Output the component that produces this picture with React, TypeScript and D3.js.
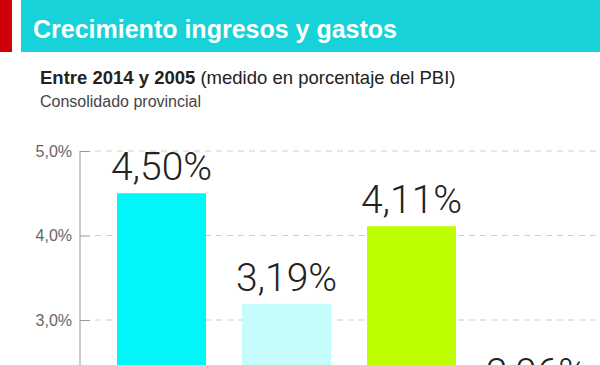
import React, { useEffect, useRef } from 'react';
import * as d3 from 'd3';

const categories = ['Ingresos totales', 'Ingresos tributarios', 'Gastos totales', 'Gastos corrientes'];
const values = [4.5, 3.19, 4.11, 2.06];
const barColors = ['#00f6f8', '#c6fcfc', '#bdff00', '#e2ffa0'];
const yTicks = [3, 4, 5];

const fmtTick = (d: number) => d.toFixed(1).replace('.', ',') + '%';
const fmtValue = (d: number) => d.toFixed(2).replace('.', ',') + '%';

const App: React.FC = () => {
    const svgRef = useRef<SVGSVGElement | null>(null);

    useEffect(() => {
        document.body.style.margin = '0';
        if (!svgRef.current) return;

        d3.select(svgRef.current).selectAll('*').remove();

        const width = 600;
        const height = 365;
        const svg = d3.select(svgRef.current)
            .attr('width', width)
            .attr('height', height)
            .style('display', 'block')
            .style('background', '#fff');

        // header
        svg.append('rect').attr('x', 0).attr('y', 0).attr('width', 12).attr('height', 52).attr('fill', '#d0000b');
        svg.append('rect').attr('x', 21).attr('y', 0).attr('width', width - 21).attr('height', 52).attr('fill', '#17d2d8');
        svg.append('text')
            .attr('x', 33).attr('y', 38)
            .attr('fill', '#fff')
            .style('font-family', '"Liberation Sans", Arial, sans-serif')
            .style('font-weight', 'bold')
            .style('font-size', '25px')
            .text('Crecimiento ingresos y gastos');

        const sub = svg.append('text')
            .attr('x', 40).attr('y', 84)
            .attr('fill', '#222')
            .style('font-family', '"Liberation Sans", Arial, sans-serif')
            .style('font-size', '18.5px');
        sub.append('tspan').style('font-weight', 'bold').text('Entre 2014 y 2005');
        sub.append('tspan').text(' (medido en porcentaje del PBI)');

        svg.append('text')
            .attr('x', 40).attr('y', 107)
            .attr('fill', '#444')
            .style('font-family', '"Liberation Sans Narrow", "Liberation Sans", Arial, sans-serif')
            .style('font-size', '16px')
            .text('Consolidado provincial');

        // scales
        const yTop = 151;
        const pxPerUnit = 84.5;
        const yScale = d3.scaleLinear()
            .domain([0, 5])
            .range([yTop + 5 * pxPerUnit, yTop]);

        const xScale = d3.scaleBand()
            .domain(categories)
            .range([117, 581])
            .paddingInner(0.288)
            .paddingOuter(0);

        const g = svg.append('g');

        // grid
        g.selectAll('.grid')
            .data(yTicks)
            .enter().append('line')
            .attr('class', 'grid')
            .attr('x1', 95).attr('x2', width)
            .attr('y1', d => yScale(d)).attr('y2', d => yScale(d))
            .attr('stroke', '#cfcfcf')
            .attr('stroke-width', 1)
            .attr('stroke-dasharray', '6,5');

        // axis
        const axis = g.append('g')
            .attr('transform', 'translate(80,0)')
            .call(d3.axisLeft(yScale).tickValues(yTicks).tickSize(-10).tickPadding(8).tickFormat(d => fmtTick(d as number)));
        axis.select('.domain').remove();
        axis.selectAll('.tick line').attr('stroke', '#999');
        axis.selectAll('.tick text')
            .attr('fill', '#666')
            .style('font-family', '"Liberation Sans", Arial, sans-serif')
            .style('font-size', '16px');
        g.append('line')
            .attr('x1', 80).attr('x2', 80)
            .attr('y1', yTop).attr('y2', yScale(0))
            .attr('stroke', '#999');

        // bars
        g.selectAll('.bar')
            .data(values)
            .enter().append('rect')
            .attr('class', 'bar')
            .attr('x', (d, i) => xScale(categories[i]) || 0)
            .attr('y', d => yScale(d))
            .attr('width', xScale.bandwidth())
            .attr('height', d => yScale(0) - yScale(d))
            .attr('fill', (d, i) => barColors[i]);

        g.selectAll('.label')
            .data(values)
            .enter().append('text')
            .attr('class', 'label')
            .attr('x', (d, i) => (xScale(categories[i]) || 0) + xScale.bandwidth() / 2)
            .attr('y', d => yScale(d) - 13)
            .attr('text-anchor', 'middle')
            .attr('fill', '#222')
            .style('font-family', 'Roboto, "Liberation Sans", sans-serif')
            .style('font-weight', 300)
            .style('font-size', '39px')
            .text(d => fmtValue(d));
    }, []);

    return <svg ref={svgRef}></svg>;
};

export default App;
